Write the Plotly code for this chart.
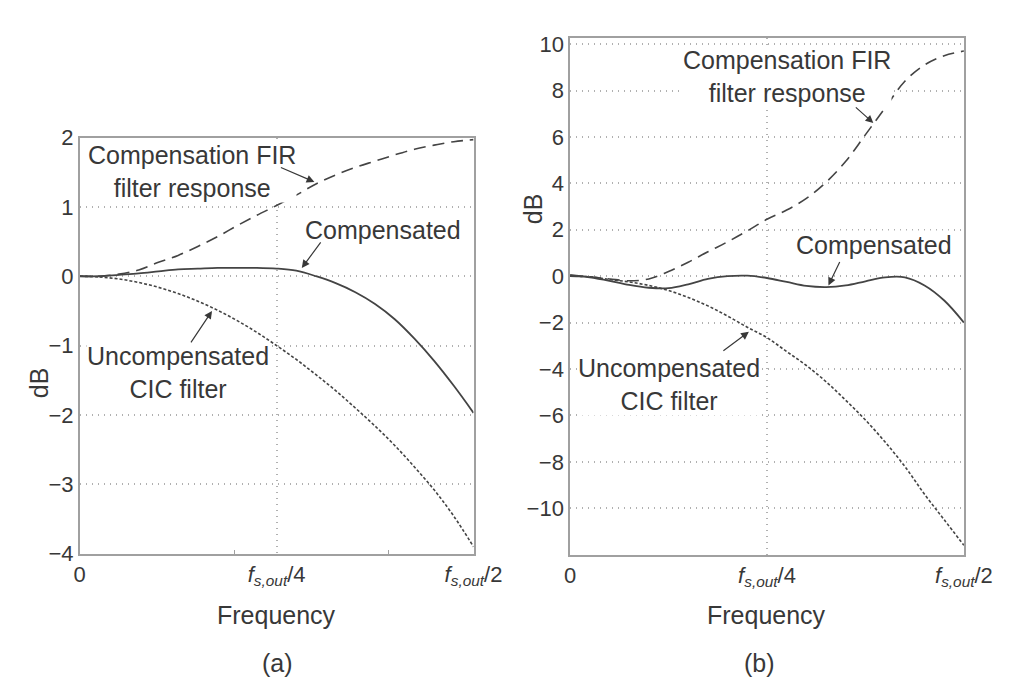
import plotly.graph_objects as go
from plotly.subplots import make_subplots

# normalised frequency, 0 .. fs_out/2
freq = [0, 0.025, 0.05, 0.075, 0.1, 0.125, 0.15, 0.175, 0.2, 0.225, 0.25,
        0.275, 0.3, 0.325, 0.35, 0.375, 0.4, 0.425, 0.45, 0.475, 0.5]

# panel (a)
fir_a = [0, 0.0, 0.03, 0.09, 0.2, 0.3, 0.43, 0.57, 0.73, 0.88, 1.02,
         1.17, 1.33, 1.46, 1.57, 1.66, 1.75, 1.83, 1.89, 1.94, 1.97]
comp_a = [0, 0, 0.02, 0.04, 0.07, 0.1, 0.11, 0.12, 0.12, 0.12, 0.11,
          0.08, 0.0, -0.1, -0.23, -0.4, -0.62, -0.9, -1.22, -1.58, -1.97]
cic_a = [0, -0.01, -0.04, -0.09, -0.16, -0.25, -0.36, -0.49, -0.64, -0.81, -1.0,
         -1.2, -1.42, -1.65, -1.9, -2.16, -2.44, -2.75, -3.08, -3.46, -3.9]

# panel (b)
fir_b = [0, -0.03, -0.12, -0.2, -0.12, 0.2, 0.6, 1.05, 1.48, 1.95, 2.45,
         2.85, 3.35, 4.05, 4.95, 6.1, 7.25, 8.4, 9.1, 9.5, 9.7]
comp_b = [0.05, -0.05, -0.2, -0.38, -0.5, -0.52, -0.35, -0.12, 0.0, 0.02, -0.08,
          -0.25, -0.42, -0.47, -0.4, -0.22, -0.05, -0.05, -0.4, -1.05, -2.0]
cic_b = [0, -0.03, -0.14, -0.25, -0.4, -0.62, -0.92, -1.28, -1.72, -2.2, -2.65,
         -3.25, -3.85, -4.55, -5.35, -6.2, -7.15, -8.2, -9.4, -10.5, -11.6]

x_tickvals = [0, 0.25, 0.5]
x_ticktext = ["0", "<i>f</i><sub><i>s,out</i></sub>/4", "<i>f</i><sub><i>s,out</i></sub>/2"]
ya_ticks = [-4, -3, -2, -1, 0, 1, 2]
yb_ticks = [-10, -8, -6, -4, -2, 0, 2, 4, 6, 8, 10]
xa_minor = [0.196, 0.392]

W, H = 1011, 681
FONT = "Liberation Sans, Arial, Helvetica, sans-serif"
INK = "#383838"
LINE = "#444444"
BOX = "#a0a0a0"
GRID = "#b0b0b0"


def px(x):
    return x / W


def py(y):
    return 1 - y / H


fig = make_subplots(rows=1, cols=2)

panels = [(1, fir_a, comp_a, cic_a), (2, fir_b, comp_b, cic_b)]
for col, fir, comp, cic in panels:
    fig.add_trace(go.Scatter(x=freq, y=fir, mode="lines", line_shape="spline",
                             line=dict(color=LINE, width=1.6, dash="12px,7px")), row=1, col=col)
    fig.add_trace(go.Scatter(x=freq, y=cic, mode="lines", line_shape="spline",
                             line=dict(color=LINE, width=1.6, dash="3px,2px")), row=1, col=col)
    fig.add_trace(go.Scatter(x=freq, y=comp, mode="lines", line_shape="spline",
                             line=dict(color=LINE, width=1.8)), row=1, col=col)

axis_common = dict(showline=True, mirror=True, linecolor=BOX, linewidth=1.5,
                   showgrid=True, gridcolor=GRID, griddash="1px,5px", gridwidth=1.5,
                   zeroline=False, ticks="",
                   tickfont=dict(family=FONT, size=22, color=INK))

fig.update_layout(
    width=W, height=H, showlegend=False,
    paper_bgcolor="white", plot_bgcolor="white",
    margin=dict(l=0, r=0, t=0, b=0),
    xaxis=dict(domain=[px(68), px(476)], range=[0, 0.5],
               tickvals=x_tickvals, ticktext=x_ticktext,
               minor=dict(tickvals=xa_minor, ticks="inside", ticklen=4,
                          tickcolor=BOX, showgrid=False),
               **axis_common),
    yaxis=dict(domain=[py(554), py(122)], range=[-4, 2], tickvals=ya_ticks, **axis_common),
    xaxis2=dict(domain=[px(576), px(984)], range=[0, 0.5],
                tickvals=x_tickvals, ticktext=x_ticktext, **axis_common),
    yaxis2=dict(domain=[py(555), py(19)], range=[-12, 10.25], tickvals=yb_ticks, **axis_common),
)

txt = dict(family=FONT, size=25, color=INK)

# text labels with white boxes (they hide the grid behind them)
labels = [
    ("x", "y", 0.143, 1.51, "Compensation FIR<br>filter response"),
    ("x", "y", 0.385, 0.67, "Compensated"),
    ("x", "y", 0.125, -1.39, "Uncompensated<br>CIC filter"),
    ("x2", "y2", 0.276, 8.6, "Compensation FIR<br>filter response"),
    ("x2", "y2", 0.386, 1.34, "Compensated"),
    ("x2", "y2", 0.125, -4.65, "Uncompensated<br>CIC filter"),
]
for xr, yr, x, y, t in labels:
    fig.add_annotation(xref=xr, yref=yr, x=x, y=y, text=t, showarrow=False,
                       font=txt, bgcolor="white", borderpad=0)

# arrows pointing at the curves
arrows = [
    ("x", "y", 0.298, 1.36, -35, -15),
    ("x", "y", 0.282, 0.12, 20, -27),
    ("x", "y", 0.168, -0.5, -22, 33),
    ("x2", "y2", 0.385, 6.6, -19, -17),
    ("x2", "y2", 0.328, -0.4, 12, -25),
    ("x2", "y2", 0.227, -2.4, -27, 20),
]
for xr, yr, x, y, ax, ay in arrows:
    fig.add_annotation(xref=xr, yref=yr, x=x, y=y, ax=ax, ay=ay, text="",
                       showarrow=True, arrowhead=2, arrowsize=1.3, arrowwidth=1.2,
                       arrowcolor=INK)

# axis titles and panel captions
captions = [
    (272, 618, "Frequency", 0),
    (780, 618, "Frequency", 0),
    (273, 667, "(a)", 0),
    (772, 667, "(b)", 0),
    (26, 377, "dB", -90),
    (537, 196, "dB", -90),
]
for x, y, t, ang in captions:
    fig.add_annotation(xref="paper", yref="paper", x=px(x), y=py(y), text=t,
                       showarrow=False, font=txt, textangle=ang,
                       xanchor="center", yanchor="middle")

fig.write_html("out.html")
